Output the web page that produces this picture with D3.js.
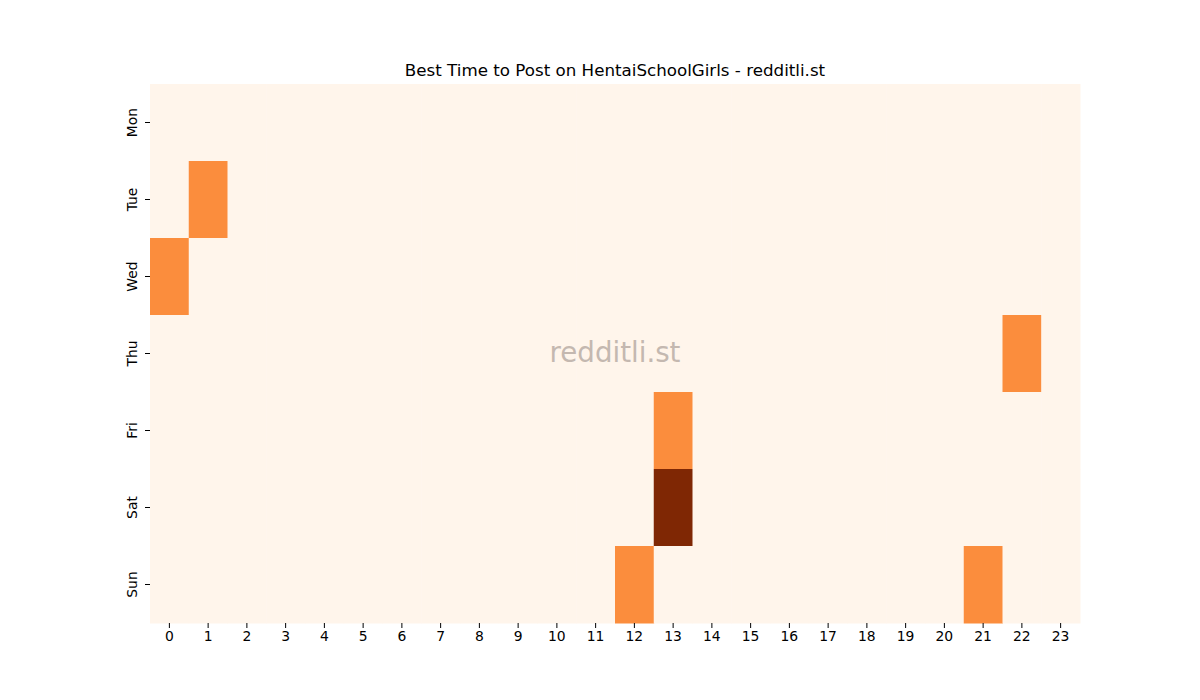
<!DOCTYPE html>
<html lang="en">
  <head>
    <meta charset="UTF-8" />
    <title>Best Time to Post</title>
    <script src="https://d3js.org/d3.v7.min.js"></script>
    <style>
      body { margin: 0; background: #fff; }
      text { font-family: "DejaVu Sans", sans-serif; }
    </style>
  </head>
  <body>
    <div id="svgCanvas"></div>
    <script>
      var days = ["Mon", "Tue", "Wed", "Thu", "Fri", "Sat", "Sun"];
      var hours = d3.range(0, 24);
      // number of good posts per day/hour (zero unless listed)
      var monVals = [0,0,0,0,0,0,0,0,0,0,0,0,0,0,0,0,0,0,0,0,0,0,0,0];
      var tueVals = [0,1,0,0,0,0,0,0,0,0,0,0,0,0,0,0,0,0,0,0,0,0,0,0];
      var wedVals = [1,0,0,0,0,0,0,0,0,0,0,0,0,0,0,0,0,0,0,0,0,0,0,0];
      var thuVals = [0,0,0,0,0,0,0,0,0,0,0,0,0,0,0,0,0,0,0,0,0,0,1,0];
      var friVals = [0,0,0,0,0,0,0,0,0,0,0,0,0,1,0,0,0,0,0,0,0,0,0,0];
      var satVals = [0,0,0,0,0,0,0,0,0,0,0,0,0,2,0,0,0,0,0,0,0,0,0,0];
      var sunVals = [0,0,0,0,0,0,0,0,0,0,0,0,1,0,0,0,0,0,0,0,0,1,0,0];
      var rows = [monVals, tueVals, wedVals, thuVals, friVals, satVals, sunVals];

      var width = 1200, height = 700;
      var mLeft = 150, mRight = 1080, mTop = 84, mBottom = 623;

      var canvas = d3.select("#svgCanvas").append("svg")
        .attr("width", width)
        .attr("height", height);

      var x = d3.scaleBand().domain(hours).range([mLeft, mRight]);
      var y = d3.scaleBand().domain(days).range([mTop, mBottom]);
      var color = d3.scaleSequential(d3.interpolateOranges).domain([0, 2]);

      var cells = [];
      rows.forEach(function(r, i) {
        r.forEach(function(v, h) {
          cells.push({ day: days[i], hour: h, value: v });
        });
      });

      canvas.selectAll("rect.cell")
        .data(cells)
        .enter()
        .append("rect")
        .attr("class", "cell")
        .attr("x", function(d) { return x(d.hour); })
        .attr("y", function(d) { return y(d.day); })
        .attr("width", x.bandwidth() + 0.5)
        .attr("height", y.bandwidth() + 0.5)
        .attr("fill", function(d) { return color(d.value); });

      // axes
      var gX = canvas.append("g")
        .attr("transform", "translate(0," + mBottom + ")")
        .call(d3.axisBottom(x).tickSize(5).tickPadding(3));
      var gY = canvas.append("g")
        .attr("transform", "translate(" + mLeft + ",0)")
        .call(d3.axisLeft(y).tickSize(5).tickPadding(4));
      gX.select(".domain").remove();
      gY.select(".domain").remove();
      gX.selectAll("line").attr("stroke", "#000");
      gY.selectAll("line").attr("stroke", "#000");
      gX.selectAll("text")
        .attr("fill", "#000")
        .style("font-size", "13.9px")
        .style("font-family", "DejaVu Sans");
      gY.selectAll("text")
        .attr("fill", "#000")
        .style("font-size", "13.9px")
        .style("font-family", "DejaVu Sans")
        .attr("text-anchor", "middle")
        .attr("dy", "0")
        .attr("x", 0)
        .attr("transform", "translate(-13,0) rotate(-90)");

      // watermark
      canvas.append("text")
        .attr("x", (mLeft + mRight) / 2)
        .attr("y", 362)
        .attr("text-anchor", "middle")
        .style("font-size", "27.7px")
        .attr("fill", "#c4b8b0")
        .text("redditli.st");

      // title
      canvas.append("text")
        .attr("x", (mLeft + mRight) / 2)
        .attr("y", 76)
        .attr("text-anchor", "middle")
        .style("font-size", "16.7px")
        .attr("fill", "#000")
        .text("Best Time to Post on HentaiSchoolGirls - redditli.st");
    </script>
  </body>
</html>
